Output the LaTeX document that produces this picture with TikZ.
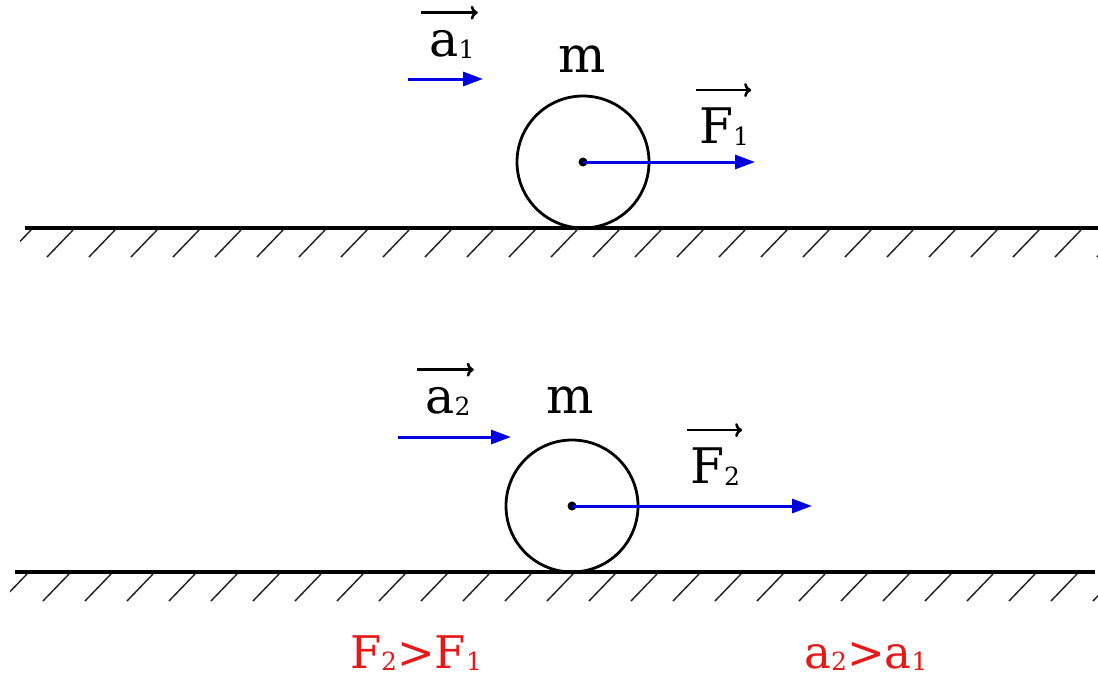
\documentclass[tikz,border=0pt]{standalone}
\usepackage{fontspec}
\setmainfont{DejaVu Serif}
\usetikzlibrary{arrows.meta}
\definecolor{forceblue}{RGB}{0,0,225}
\definecolor{resred}{RGB}{230,25,25}
\newcommand{\lbl}[2]{#1\raisebox{-2pt}{\fontsize{25}{25}\selectfont #2}}
\tikzset{
  body/.style={circle, draw=black, line width=2.8pt, minimum size=132pt, inner sep=0pt},
  cdot/.style={circle, fill=black, inner sep=0pt, minimum size=9pt},
  force/.style={forceblue, line width=3pt, -{Triangle[length=20pt,width=14pt]}},
  vecbar/.style={line width=2.6pt, -{To[length=7pt,width=14pt]}},
  ground/.style={line width=3.5pt},
  hatch/.style={line width=1.5pt, black!85},
  txt/.style={font=\fontsize{49}{53}\selectfont, anchor=base, inner sep=0pt},
  mass/.style={txt, font=\fontsize{50}{54}\selectfont},
  result/.style={txt, font=\fontsize{45}{49}\selectfont, text=resred}
}

\begin{document}
\begin{tikzpicture}[x=1pt,y=-1pt]
  \useasboundingbox (0,0) rectangle (1098,683);

  % Top: force F1
  \coordinate (g1w) at (25,228);
  \coordinate (g1e) at (1098,228);
  \draw[ground] (g1w) -- (g1e);
  \begin{scope}
    \clip (20,228) rectangle (1098,262);
    \foreach \x in {31,73,...,1140}
      \draw[hatch] (\x,230) -- ++(-26,27);
  \end{scope}
  \node[body] (c1) at (583,162) {};
  \node[cdot] (o1) at (c1.center) {};
  \coordinate (f1) at (755,162);
  \draw[force] (o1.center) -- (f1);
  \node[mass] (m1) at (582,72) {m};
  \node[txt] (F1) at (724,143) {\lbl{F}{1}};
  \draw[vecbar] ([xshift=-3pt,yshift=17pt]F1.north west) -- ([xshift=2pt,yshift=17pt]F1.north east);
  \coordinate (a1s) at (408,79);
  \coordinate (a1e) at (483,79);
  \draw[force] (a1s) -- (a1e);
  \node[txt] (al1) at (452,56) {\lbl{a}{1}};
  \draw[vecbar] ([xshift=-8pt,yshift=17pt]al1.north west) -- ([xshift=3pt,yshift=17pt]al1.north east);

  % Bottom: force F2
  \coordinate (g2w) at (15,572);
  \coordinate (g2e) at (1095,572);
  \draw[ground] (g2w) -- (g2e);
  \begin{scope}
    \clip (10,572) rectangle (1098,606);
    \foreach \x in {27,69,...,1130}
      \draw[hatch] (\x,574) -- ++(-26,27);
  \end{scope}
  \node[body] (c2) at (572,506) {};
  \node[cdot] (o2) at (c2.center) {};
  \coordinate (f2) at (812,506);
  \draw[force] (o2.center) -- (f2);
  \node[mass] (m2) at (570,413) {m};
  \node[txt] (F2) at (715,483) {\lbl{F}{2}};
  \draw[vecbar] ([xshift=-3pt,yshift=17pt]F2.north west) -- ([xshift=2pt,yshift=17pt]F2.north east);
  \coordinate (a2s) at (398,437);
  \coordinate (a2e) at (511,437);
  \draw[force] (a2s) -- (a2e);
  \node[txt] (al2) at (448,413) {\lbl{a}{2}};
  \draw[vecbar] ([xshift=-8pt,yshift=17pt]al2.north west) -- ([xshift=3pt,yshift=17pt]al2.north east);

  % Results
  \node[result] (rF) at (416,668) {\lbl{F}{2}>\lbl{F}{1}};
  \node[result] (ra) at (866,668) {\lbl{a}{2}>\lbl{a}{1}};
\end{tikzpicture}
\end{document}
